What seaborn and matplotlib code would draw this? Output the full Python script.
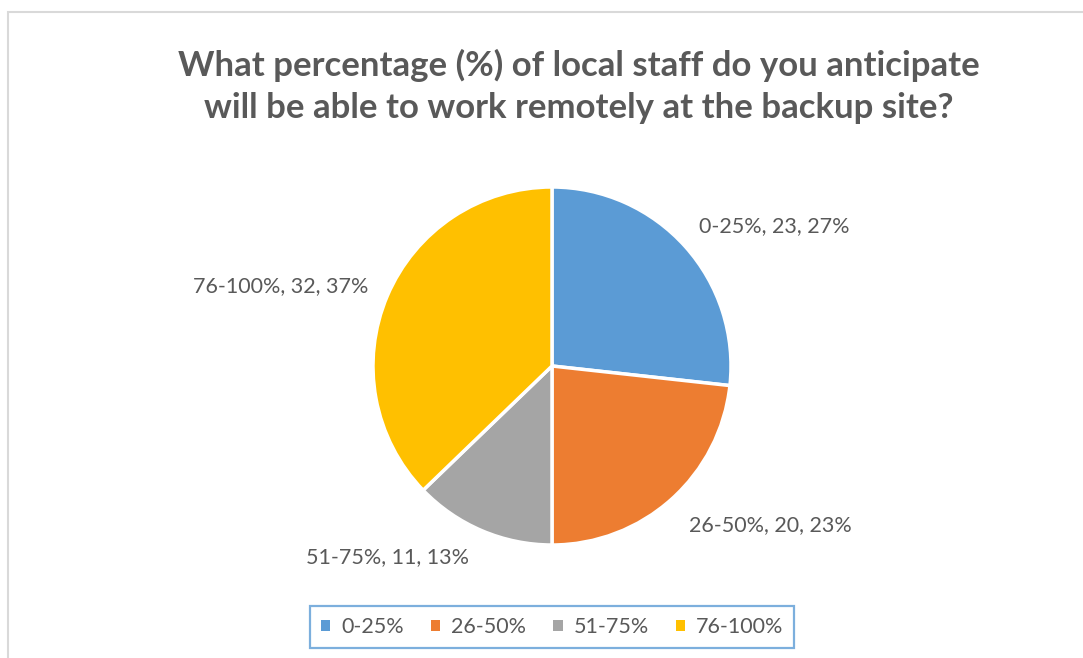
import matplotlib.pyplot as plt
import seaborn as sns
from matplotlib.patches import Rectangle

# survey answers
categories = ["0-25%", "26-50%", "51-75%", "76-100%"]
counts = [23, 20, 11, 32]
title = ("What percentage (%) of local staff do you anticipate\n"
         "will be able to work remotely at the backup site?")

sns.set_theme(style="white")
plt.rcParams['font.family'] = ['Lato', 'DejaVu Sans']

colors = sns.color_palette(["#5B9BD5", "#ED7D31", "#A5A5A5", "#FFC000"])
text_color = "#595959"

fig = plt.figure(figsize=(10.83, 6.58), dpi=100)
ax = fig.add_axes([0, 0, 1, 1])

total = sum(counts)
labels = [f"{cat}, {c}, {round(c / total * 100)}%" for cat, c in zip(categories, counts)]

wedges, texts = ax.pie(
    counts, labels=labels, colors=colors, startangle=90, counterclock=False,
    center=(552, 292), radius=179, frame=True,
    wedgeprops=dict(edgecolor="white", linewidth=2.5),
    textprops=dict(color=text_color, fontsize=15.5),
)

# data label placement (pixel space, y up)
label_pos = [(774, 432), (770, 133), (387, 101), (281, 372)]
for t, (x, y) in zip(texts, label_pos):
    t.set_position((x, y))
    t.set_ha("center")
    t.set_va("center")

ax.set_xlim(0, 1083)
ax.set_ylim(0, 658)
ax.axis("off")

fig.text(579 / 1083, 1 - 86.5 / 658, title, ha="center", va="center",
         fontsize=25, fontweight="bold", color=text_color, linespacing=1.38)

leg = ax.legend(
    wedges, categories, loc="center", ncol=4,
    bbox_to_anchor=(552 / 1083, 1 - 627 / 658), bbox_transform=fig.transFigure,
    frameon=True, fancybox=False, fontsize=15.5, handlelength=0.45,
    handleheight=0.45, handletextpad=0.5, columnspacing=1.25, borderpad=0.5,
    labelcolor=text_color,
)
leg.get_frame().set_edgecolor("#5B9BD5")
leg.get_frame().set_linewidth(1.6)
for h in leg.legend_handles:
    h.set_edgecolor("none")

# chart area border
fig.patches.append(Rectangle((7.5 / 1083, -0.05), 1.1, 1.05 - 11.5 / 658,
                             transform=fig.transFigure, fill=False,
                             edgecolor="#D9D9D9", linewidth=1.5))

fig.savefig("out.png", dpi=100)
